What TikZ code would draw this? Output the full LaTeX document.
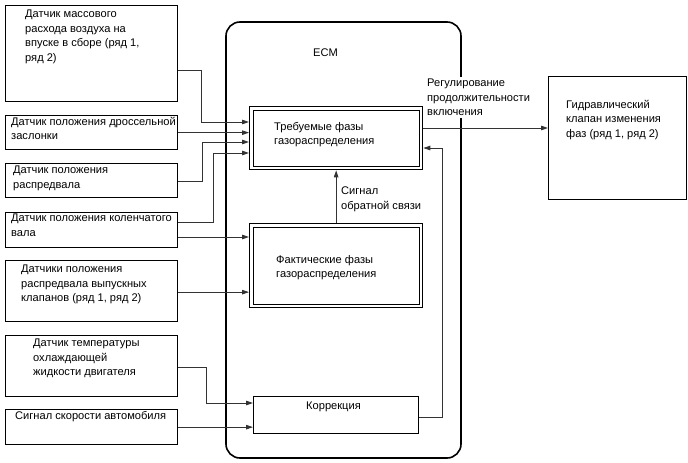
\documentclass[tikz,border=0pt]{standalone}
\usepackage{fontspec}
\setmainfont{Liberation Sans}
\usetikzlibrary{arrows.meta,calc}
\begin{document}
\begin{tikzpicture}[x=1pt,y=-1pt,
  box/.style={draw=black,line width=1.3pt,anchor=north west,inner sep=0pt},
  txt/.style={anchor=north west,inner sep=0pt,align=left,font=\fontsize{11.1}{14.4}\selectfont},
  conn/.style={draw=black!80,line width=0.8pt},
  arr/.style={conn,-{Triangle[length=7pt,width=4.5pt]}}]
\useasboundingbox (0,0) rectangle (688,463);
% ECM frame
\draw[line width=1.6pt,rounded corners=14pt] (226,22) rectangle (461,458);
\node[txt] (ecm) at (313,49) {ECM};
% left boxes
\node[box,minimum width=172pt,minimum height=96pt] (maf) at (5,5) {};
\node[box,minimum width=172pt,minimum height=34pt] (thr) at (5,115) {};
\node[box,minimum width=172pt,minimum height=34pt] (cam) at (5,163) {};
\node[box,minimum width=172pt,minimum height=35pt] (crk) at (5,212) {};
\node[box,minimum width=172pt,minimum height=61pt] (exh) at (5,260) {};
\node[box,minimum width=172pt,minimum height=61pt] (cool) at (5,335) {};
\node[box,minimum width=172pt,minimum height=35pt] (spd) at (5,409) {};
\node[txt] (tmaf) at (25,10) {Датчик массового\\расхода воздуха на\\впуске в сборе (ряд 1,\\ряд 2)};
\node[txt] (tthr) at (11,117) {Датчик положения дроссельной\\заслонки};
\node[txt] (tcam) at (13,166) {Датчик положения\\распредвала};
\node[txt] (tcrk) at (11,214) {Датчик положения коленчатого\\вала};
\node[txt] (texh) at (21,265) {Датчики положения\\распредвала выпускных\\клапанов (ряд 1, ряд 2)};
\node[txt] (tcool) at (33,339) {Датчик температуры\\охлаждающей\\жидкости двигателя};
\node[txt] (tspd) at (15,411) {Сигнал скорости автомобиля};
% inner boxes
\node[box,minimum width=173pt,minimum height=63pt] (req) at (249,106) {};
\draw[line width=0.8pt] ([shift={(4pt,-4pt)}]req.north west) rectangle ([shift={(-4pt,4pt)}]req.south east);
\node[box,minimum width=173pt,minimum height=84pt] (act) at (249,223) {};
\draw[line width=0.8pt] ([shift={(4pt,-4pt)}]act.north west) rectangle ([shift={(-4pt,4pt)}]act.south east);
\node[box,line width=1.1pt,minimum width=165pt,minimum height=37pt] (cor) at (253,396) {};
\node[box,minimum width=138pt,minimum height=123pt] (hyd) at (548,76) {};
\node[txt] (treq) at (274,122) {Требуемые фазы\\газораспределения};
\node[txt] (tact) at (276,255) {Фактические фазы\\газораспределения};
\node[txt] (tcor) at (306,402) {Коррекция};
\node[txt] (thyd) at (566,100) {Гидравлический\\клапан изменения\\фаз (ряд 1, ряд 2)};
\node[txt,fill=white,inner sep=2pt] (treg) at (425,77) {Регулирование\\продолжительности\\включения};
\node[txt] (tfb) at (341,187) {Сигнал\\обратной связи};
% connectors
\draw[arr] ([yshift=-65pt]maf.north east) -- ++(23,0) |- ([yshift=-16pt]req.north west);
\draw[arr] (thr.east) -- (thr.east -| req.west);
\draw[arr] ([yshift=-1pt]cam.east) -- ++(24,0) |- ([yshift=-36pt]req.north west);
\draw[arr] ([yshift=-10pt]crk.north east) -- ++(35,0) |- ([yshift=-47pt]req.north west);
\coordinate (c2) at ([yshift=-25pt]crk.north east);
\draw[arr] (c2) -- (c2 -| act.west);
\coordinate (ex) at ([yshift=-1pt]exh.east);
\draw[arr] (ex) -- (ex -| act.west);
\draw[arr] ([yshift=-1pt]cool.east) -- ++(28,0) |- ([yshift=-7pt]cor.north west);
\draw[arr] (spd.east) -- (spd.east -| cor.west);
\draw[arr] (act.north) -- (req.south);
\draw[arr] ([yshift=-2pt]cor.east) -- ++(23,0) |- ([yshift=-42pt]req.north east);
\coordinate (o1) at ([yshift=-22pt]req.north east);
\draw[arr] (o1) -- (o1 -| hyd.west);
\end{tikzpicture}
\end{document}
